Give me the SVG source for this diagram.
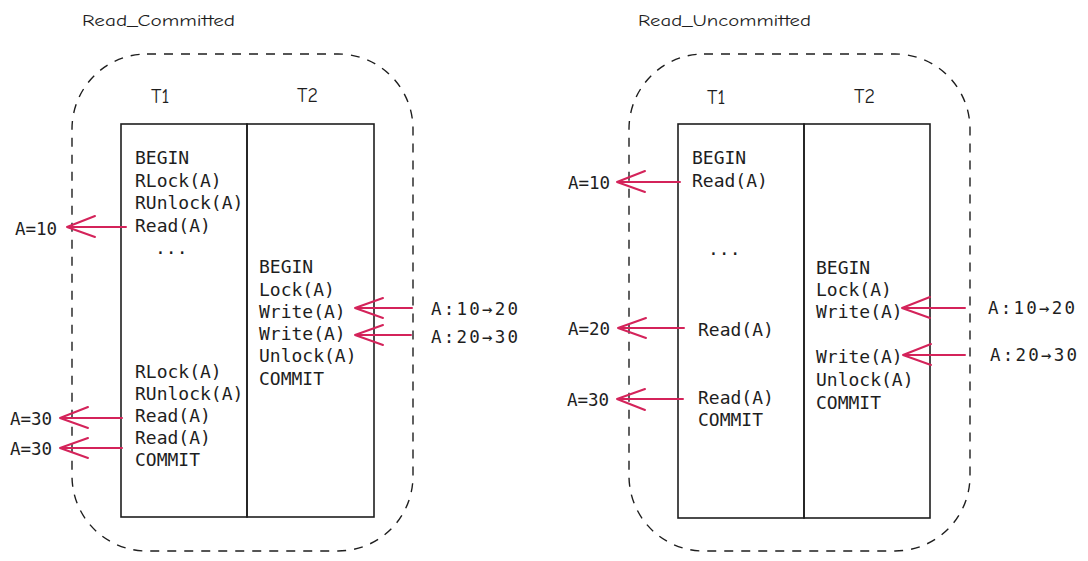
<svg xmlns="http://www.w3.org/2000/svg" width="1088" height="561" viewBox="0 0 1088 561">
<style>
.bg{fill:#ffffff}
.frame{fill:none;stroke:#1e1e1e;stroke-width:1.4;stroke-dasharray:9 8}
.box{fill:none;stroke:#1e1e1e;stroke-width:1.6}
.code{font-family:"DejaVu Sans Mono","Liberation Mono",monospace;font-size:18px;fill:#1e1e1e}
.lbl{font-family:"DejaVu Sans Mono","Liberation Mono",monospace;font-size:17.5px;fill:#1e1e1e}
.hand{font-family:"Comic Neue","Liberation Sans",sans-serif;font-size:16px;fill:#1e1e1e}
.tx{font-family:"Comic Neue","Liberation Sans",sans-serif;font-size:20px;fill:#1e1e1e}
.arr{fill:none;stroke:#d4235a;stroke-width:2;stroke-linecap:round;stroke-linejoin:round}
</style>
<rect class="bg" x="0" y="0" width="1088" height="561"/>

<g id="read-committed">
  <text class="hand" x="82" y="26" textLength="153" lengthAdjust="spacingAndGlyphs">Read_Committed</text>
  <rect class="frame" x="72" y="54" width="341" height="497" rx="75" ry="75"/>
  <g id="rc-t1">
    <text class="tx" x="151" y="103">T1</text>
    <rect class="box" x="121" y="124" width="126" height="393"/>
    <text class="code" x="135" y="164">BEGIN</text>
    <text class="code" x="135" y="187">RLock(A)</text>
    <text class="code" x="135" y="209">RUnlock(A)</text>
    <text class="code" x="135" y="232">Read(A)</text>
    <text class="code" x="155" y="254">...</text>
    <text class="code" x="135" y="378">RLock(A)</text>
    <text class="code" x="135" y="400">RUnlock(A)</text>
    <text class="code" x="135" y="422">Read(A)</text>
    <text class="code" x="135" y="444">Read(A)</text>
    <text class="code" x="135" y="466">COMMIT</text>
  </g>
  <g id="rc-t2">
    <text class="tx" x="297" y="102">T2</text>
    <rect class="box" x="247" y="124" width="127" height="393"/>
    <text class="code" x="259" y="273">BEGIN</text>
    <text class="code" x="259" y="296">Lock(A)</text>
    <text class="code" x="259" y="318">Write(A)</text>
    <text class="code" x="259" y="340">Write(A)</text>
    <text class="code" x="259" y="362">Unlock(A)</text>
    <text class="code" x="259" y="385">COMMIT</text>
  </g>
  <g id="rc-labels">
    <text class="lbl" x="15" y="235">A=10</text>
    <text class="lbl" x="10" y="425">A=30</text>
    <text class="lbl" x="10" y="455">A=30</text>
    <text class="lbl" x="431" y="315" textLength="87">A:10→20</text>
    <text class="lbl" x="431" y="343" textLength="87">A:20→30</text>
  </g>
</g>

<g id="read-uncommitted">
  <text class="hand" x="638" y="26" textLength="173" lengthAdjust="spacingAndGlyphs">Read_Uncommitted</text>
  <rect class="frame" x="629" y="54" width="341" height="497" rx="75" ry="75"/>
  <g id="ru-t1">
    <text class="tx" x="707" y="104">T1</text>
    <rect class="box" x="678" y="124" width="126" height="394"/>
    <text class="code" x="692" y="164">BEGIN</text>
    <text class="code" x="692" y="187">Read(A)</text>
    <text class="code" x="708" y="255">...</text>
    <text class="code" x="698" y="336">Read(A)</text>
    <text class="code" x="698" y="404">Read(A)</text>
    <text class="code" x="698" y="426">COMMIT</text>
  </g>
  <g id="ru-t2">
    <text class="tx" x="854" y="103">T2</text>
    <rect class="box" x="804" y="124" width="126" height="394"/>
    <text class="code" x="816" y="274">BEGIN</text>
    <text class="code" x="816" y="296">Lock(A)</text>
    <text class="code" x="816" y="318">Write(A)</text>
    <text class="code" x="816" y="363">Write(A)</text>
    <text class="code" x="816" y="386">Unlock(A)</text>
    <text class="code" x="816" y="409">COMMIT</text>
  </g>
  <g id="ru-labels">
    <text class="lbl" x="568" y="189">A=10</text>
    <text class="lbl" x="568" y="335">A=20</text>
    <text class="lbl" x="567" y="406">A=30</text>
    <text class="lbl" x="988" y="314" textLength="87">A:10→20</text>
    <text class="lbl" x="990" y="361" textLength="87">A:20→30</text>
  </g>
</g>

<g id="connectors">
  <path class="arr" d="M126 227 H67 M95 216 L67 227 L95 237"/>
  <path class="arr" d="M122 418 H60 M88 407 L60 418 L88 428"/>
  <path class="arr" d="M122 448 H60 M88 438 L60 448 L88 458"/>
  <path class="arr" d="M412 308 H355 M383 298 L355 308 L383 318"/>
  <path class="arr" d="M411 335 H355 M383 325 L355 335 L383 345"/>
  <path class="arr" d="M680 182 H617 M645 171 L617 182 L645 192"/>
  <path class="arr" d="M684 328 H618 M646 318 L618 328 L646 338"/>
  <path class="arr" d="M683 399 H617 M645 389 L617 399 L645 410"/>
  <path class="arr" d="M965 308 H902 M930 297 L902 308 L930 318"/>
  <path class="arr" d="M965 355 H903 M931 344 L903 355 L931 365"/>
</g>
</svg>
